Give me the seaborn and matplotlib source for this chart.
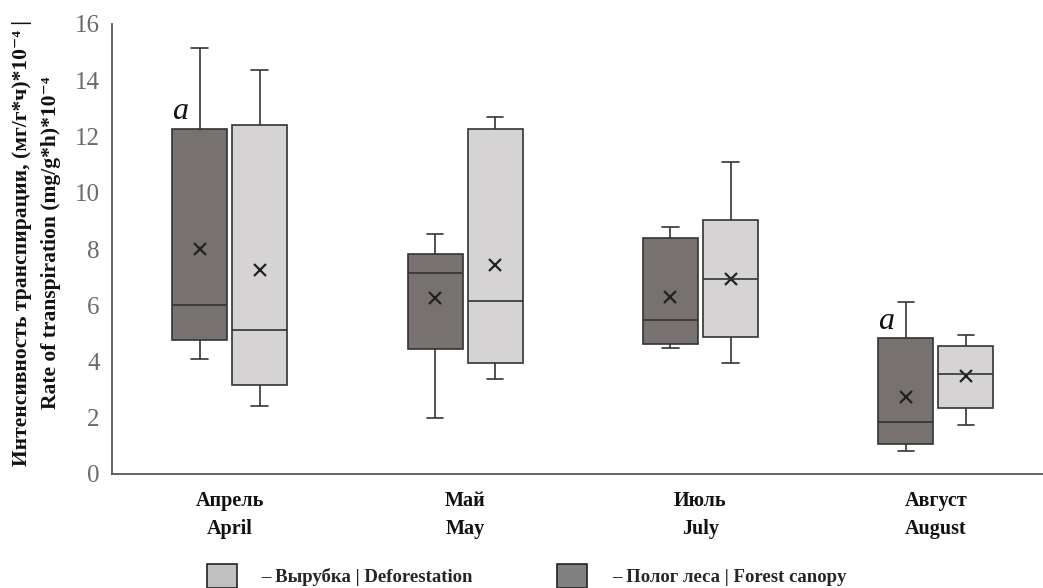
import pandas as pd
import matplotlib
matplotlib.use("Agg")
import matplotlib.pyplot as plt
from matplotlib.patches import Patch
import seaborn as sns

# Categories
months = ["Апрель\nApril", "Май\nMay", "Июль\nJuly", "Август\nAugust"]
sites = ["Полог леса | Forest canopy", "Вырубка | Deforestation"]

# Forest canopy: whisker low, Q1, median, Q3, whisker high, mean
canopy_low = [4.09, 1.99, 4.48, 0.82]
canopy_q1 = [4.78, 4.44, 4.63, 1.07]
canopy_median = [6.01, 7.15, 5.47, 1.85]
canopy_q3 = [12.27, 7.82, 8.40, 4.82]
canopy_high = [15.15, 8.54, 8.79, 6.10]
canopy_mean = [8.00, 6.25, 6.30, 2.73]
canopy_letters = ["a", "", "", "a"]

# Deforestation
cut_low = [2.43, 3.38, 3.96, 1.75]
cut_q1 = [3.16, 3.95, 4.88, 2.35]
cut_median = [5.12, 6.16, 6.93, 3.56]
cut_q3 = [12.41, 12.27, 9.04, 4.54]
cut_high = [14.36, 12.70, 11.08, 4.93]
cut_mean = [7.26, 7.43, 6.95, 3.47]

y_ticks = [0, 2, 4, 6, 8, 10, 12, 14, 16]

# Long-form tables for seaborn
rows, mean_rows = [], []
summaries = {
    sites[0]: (canopy_low, canopy_q1, canopy_median, canopy_q3, canopy_high, canopy_mean),
    sites[1]: (cut_low, cut_q1, cut_median, cut_q3, cut_high, cut_mean),
}
for site, (lo, q1, md, q3, hi, mn) in summaries.items():
    for i, m in enumerate(months):
        for v in (lo[i], q1[i], md[i], q3[i], hi[i]):
            rows.append({"month": m, "site": site, "value": v})
        mean_rows.append({"month": m, "site": site, "value": mn[i]})
df = pd.DataFrame(rows)
df_mean = pd.DataFrame(mean_rows)

sns.set_theme(style="white")
plt.rcParams["font.family"] = ["Liberation Serif", "DejaVu Serif"]

box_colors = {sites[0]: "#77726f", sites[1]: "#d5d3d4"}
legend_colors = {sites[0]: "#808080", sites[1]: "#c0c0c0"}

fig = plt.figure(figsize=(10.43, 5.88), dpi=100)
ax = fig.add_axes([112 / 1043, 1 - 474 / 588, (1043 - 112) / 1043, (474 - 24) / 588])

group_width = 0.51
gap = 0.082
sns.boxplot(
    data=df, x="month", y="value", hue="site",
    order=months, hue_order=sites, palette=box_colors,
    whis=(0, 100), width=group_width, gap=gap, saturation=1,
    linecolor="#333333", linewidth=1.2, fliersize=0,
    capwidths=0.07, legend=False, ax=ax,
)

sns.pointplot(
    data=df_mean, x="month", y="value", hue="site",
    order=months, hue_order=sites, palette=["#222222", "#222222"],
    markers="x", linestyle="none", dodge=group_width / 2,
    errorbar=None, markersize=9, markeredgewidth=1.6,
    legend=False, ax=ax,
)

# Significance letters above the canopy boxes
slot = group_width / 2
box_w = slot * (1 - gap)
for i, letter in enumerate(canopy_letters):
    if letter:
        ax.annotate(letter, xy=(i - slot / 2 - box_w / 2, canopy_q3[i]),
                    xytext=(0, 2), textcoords="offset points",
                    ha="left", va="bottom", fontsize=23, style="italic",
                    color="#111111")

ax.set_xlim(-0.5, 3.455)
ax.set_ylim(0, 16)
ax.set_yticks(y_ticks)
ax.set_yticklabels([str(t) for t in y_ticks], fontsize=18, color="#6a6a6a")
ax.tick_params(axis="y", length=0, pad=9)
ax.tick_params(axis="x", length=0, pad=12)
for lab in ax.get_xticklabels():
    lab.set_fontsize(14.5)
    lab.set_fontweight("bold")
    lab.set_color("#111111")
    lab.set_linespacing(1.55)
ax.set_xlabel("")
ax.set_ylabel("")
for side in ("top", "right"):
    ax.spines[side].set_visible(False)
for side in ("left", "bottom"):
    ax.spines[side].set_color("#555555")
    ax.spines[side].set_linewidth(1.3)

fig.text(37 / 1043, 1 - 243 / 588,
         "Интенсивность транспирации, (мг/г*ч)*10⁻⁴ |\nRate of transpiration (mg/g*h)*10⁻⁴",
         rotation=90, ha="center", va="center", ma="center",
         fontsize=15.5, fontweight="bold", linespacing=1.6, color="#111111")

handles = [Patch(facecolor=legend_colors[s], edgecolor="#222222", linewidth=1.2)
           for s in (sites[1], sites[0])]
labels = ["– " + s for s in (sites[1], sites[0])]
fig.legend(handles, labels, loc="lower left", bbox_to_anchor=(207 / 1043, 0.0),
           ncol=2, frameon=False,
           prop={"weight": "bold", "size": 13.5},
           handlelength=1.6, handleheight=1.6, handletextpad=1.3,
           columnspacing=4.5, borderpad=0, borderaxespad=0)

fig.savefig("out.png", dpi=100)
